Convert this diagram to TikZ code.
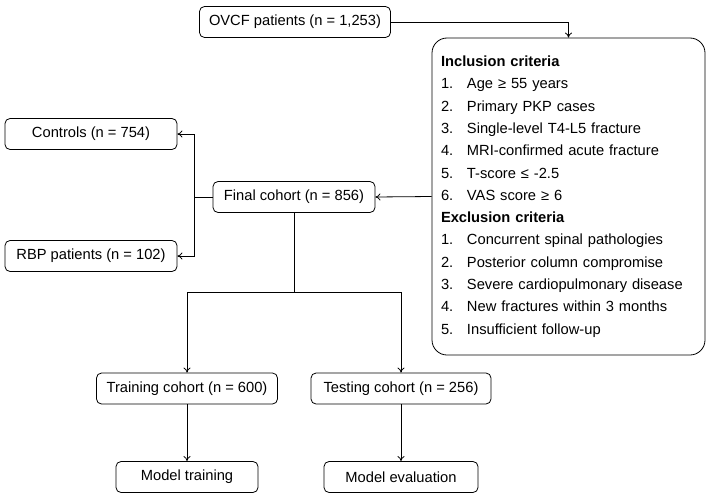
\documentclass[tikz,border=0pt]{standalone}
\usepackage{fontspec}
\setmainfont{Liberation Sans}
\usepackage{amsmath,amssymb}
\usepackage{xcolor}
\usepackage{tikz}
\usetikzlibrary{arrows.meta}
\newcommand{\critem}[2]{\makebox[26pt][l]{#1}#2}

\begin{document}
\begin{tikzpicture}[
    x=1pt, y=-1pt,
    box/.style={draw, rounded corners=5pt, minimum height=31pt, inner sep=2pt,
                font=\fontsize{14.7}{18}\selectfont, line width=0.8pt},
    critbox/.style={draw, rounded corners=15pt, minimum width=273pt, minimum height=317pt,
                align=left, text width=255pt, inner xsep=9pt,
                font=\fontsize{14.7}{22.3}\selectfont, line width=0.8pt},
    arrow/.style={-{To[length=5pt,width=7pt]}, line width=0.8pt},
    link/.style={line width=0.8pt}
  ]
    \useasboundingbox (0,0) rectangle (708,495);

    \node[box, minimum width=191pt] (ovcf) at (295,22) {OVCF patients (n = 1,253)};
    \node[critbox] (crit) at (568.5,196.5) {%
      \textbf{Inclusion criteria}\\
      \critem{1.}{Age ≥ 55 years}\\
      \critem{2.}{Primary PKP cases}\\
      \critem{3.}{Single-level T4-L5 fracture}\\
      \critem{4.}{MRI-confirmed acute fracture}\\
      \critem{5.}{T-score ≤ -2.5}\\
      \critem{6.}{VAS score ≥ 6}\\
      \textbf{Exclusion criteria}\\
      \critem{1.}{Concurrent spinal pathologies}\\
      \critem{2.}{Posterior column compromise}\\
      \critem{3.}{Severe cardiopulmonary disease}\\
      \critem{4.}{New fractures within 3 months}\\
      \critem{5.}{Insufficient follow-up}};
    \node[box, minimum width=162pt] (final) at (294,197) {Final cohort (n = 856)};
    \node[box, minimum width=172pt] (ctrl) at (91,134) {Controls (n = 754)};
    \node[box, minimum width=172pt] (rbp) at (91,256) {RBP patients (n = 102)};
    \node[box, minimum width=181pt] (train) at (187,388.5) {Training cohort (n = 600)};
    \node[box, minimum width=180pt] (test) at (401,388.5) {Testing cohort (n = 256)};
    \node[box, minimum width=142pt] (mtrain) at (187,477) {Model training};
    \node[box, minimum width=154pt] (meval) at (401,477) {Model evaluation};

    % screening
    \draw[arrow] (ovcf.east) -| (crit.north);
    \draw[arrow] (crit.west) -- (final.east);

    % group split
    \draw[link] (final.west) -- ++(-18,0) coordinate (split);
    \draw[arrow] (split) |- (ctrl.east);
    \draw[arrow] (split) |- (rbp.east);

    % cohort split
    \draw[link] (final.south) -- ++(0,79) coordinate (fork);
    \draw[arrow] (fork) -| (train.north);
    \draw[arrow] (fork) -| (test.north);
    \draw[arrow] (train.south) -- (mtrain.north);
    \draw[arrow] (test.south) -- (meval.north);
  \end{tikzpicture}
\end{document}
